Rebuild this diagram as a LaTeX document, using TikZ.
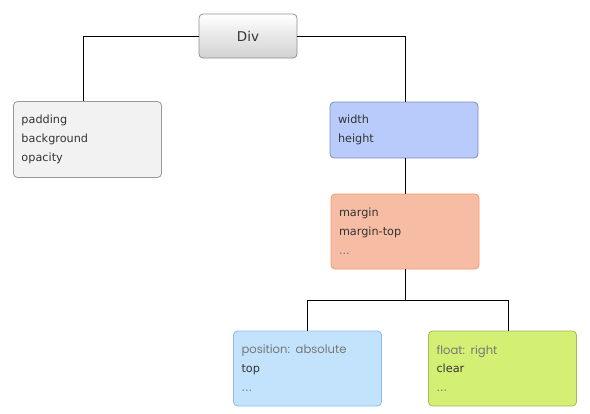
\documentclass[tikz,border=0pt]{standalone}
\usepackage{fontspec}
\setmainfont{DejaVu Sans}
\newfontfamily\propfont[Scale=1.03]{Poppins}
\usetikzlibrary{positioning}
\definecolor{txtdark}{HTML}{333333}
\definecolor{txtlight}{HTML}{777777}
\definecolor{divline}{HTML}{909090}
\definecolor{grayfill}{HTML}{F2F2F2}
\definecolor{grayline}{HTML}{999999}
\definecolor{bluefill}{HTML}{B9CBFA}
\definecolor{blueline}{HTML}{7A8EC0}
\definecolor{orangefill}{HTML}{F7BCA4}
\definecolor{orangeline}{HTML}{F29A68}
\definecolor{skyfill}{HTML}{C2E3FB}
\definecolor{skyline}{HTML}{8FB8F2}
\definecolor{limefill}{HTML}{D4F074}
\definecolor{limeline}{HTML}{A0BA5C}
\tikzset{
    propbox/.style={
        draw=#1line, fill=#1fill, rounded corners=4bp, line width=0.8bp,
        minimum width=148bp, text width=132bp, inner xsep=8bp,
        align=left, text=txtdark,
        font=\fontsize{11.3}{19}\selectfont
    },
    wire/.style={draw=black, line width=0.8bp},
}

\begin{document}
\begin{tikzpicture}[x=1bp,y=-1bp]
\useasboundingbox (0,0) rectangle (590,413);
% root
\node[draw=divline, rounded corners=4bp, line width=0.8bp, top color=white, bottom color=black!18,
      minimum width=98bp, minimum height=44bp, text=txtdark, font=\fontsize{13.5}{15}\selectfont] (div) at (248,36) {Div};
% children
\node[propbox=gray, minimum height=76bp] (pad) at (87.5,139.5) {padding\\background\\opacity};
\node[propbox=blue, minimum height=56bp] (size) at (404,130) {width\\height};
\node[propbox=orange, minimum height=75bp] (marg) at (405,231.5) {margin\\margin-top\\\textcolor{txtlight}{...}};
\node[propbox=sky, minimum height=75bp] (pos) at (307.5,368.5) {{\propfont\color{txtlight}position: absolute}\\top\\\textcolor{txtlight}{...}};
\node[propbox=lime, minimum height=75bp] (flt) at (502.5,368.5) {{\propfont\color{txtlight}float: right}\\clear\\\textcolor{txtlight}{...}};
% connectors
\draw[wire] (div.west) -| ([xshift=-4bp]pad.north);
\draw[wire] (div.east) -| ([xshift=1bp]size.north);
\draw[wire] ([xshift=1bp]size.south) -- (marg.north);
\coordinate (split) at (405,300);
\draw[wire] (marg.south) -- (split);
\draw[wire] (pos.north) |- (split) -| ([xshift=5.5bp]flt.north);
\end{tikzpicture}
\end{document}
